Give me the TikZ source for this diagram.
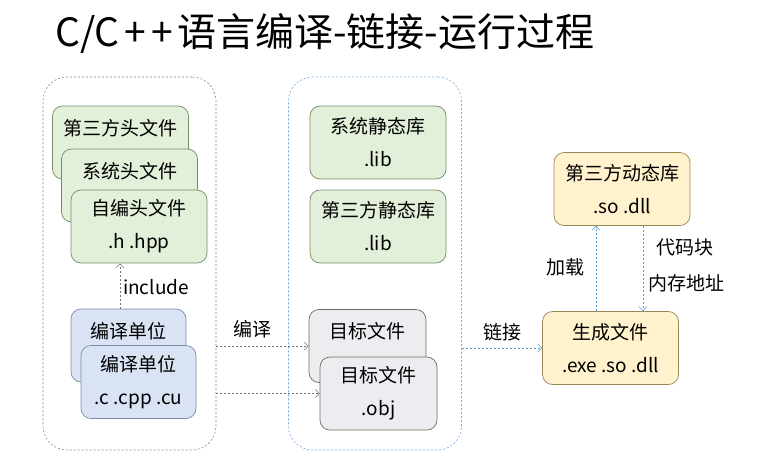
\documentclass[tikz,border=0pt]{standalone}
\usepackage{fontspec}
\usepackage{xcolor}
\usepackage{tikz}
\usetikzlibrary{shapes,arrows,arrows.meta,positioning}
\setmainfont{Noto Sans CJK SC}
\definecolor{headerfill}{RGB}{226, 239, 217}
\definecolor{headerdraw}{RGB}{118, 140, 102}
\definecolor{unitfill}{RGB}{218, 227, 243}
\definecolor{unitdraw}{RGB}{122, 141, 166}
\definecolor{objfill}{RGB}{237, 237, 241}
\definecolor{objdraw}{RGB}{98, 114, 88}
\definecolor{exefill}{RGB}{255, 242, 204}
\definecolor{exedraw}{RGB}{150, 136, 86}
\definecolor{graylink}{RGB}{115, 115, 115}
\definecolor{bluelink}{RGB}{91, 155, 213}

\begin{document}
\begin{tikzpicture}[x=1pt, y=-1pt, node distance=42pt, font=\fontsize{19}{33}\selectfont]
    % Define styles
    \tikzstyle{group} = [rectangle, dashed, dash pattern=on 2pt off 2pt, rounded corners=24pt, minimum width=173pt, minimum height=373pt, line width=0.6pt]
    \tikzstyle{filebox} = [rectangle, rounded corners=10pt, minimum width=136pt, minimum height=73pt, align=center, text centered, inner sep=0pt, line width=0.7pt]
    \tikzstyle{header} = [filebox, draw=headerdraw, fill=headerfill]
    \tikzstyle{unit} = [filebox, draw=unitdraw, fill=unitfill, minimum width=115pt]
    \tikzstyle{object} = [filebox, draw=objdraw, fill=objfill, minimum width=117pt]
    \tikzstyle{output} = [filebox, draw=exedraw, fill=exefill]
    \tikzstyle{topline} = [text height=10pt, text depth=25pt]
    \tikzstyle{grayarrow} = [-{Straight Barb[length=4pt, width=8pt]}, graylink, dashed, dash pattern=on 2pt off 2pt, line width=0.6pt]
    \tikzstyle{bluearrow} = [-{Straight Barb[length=4pt, width=8pt]}, bluelink, dashed, dash pattern=on 2pt off 2pt, line width=0.6pt]

    \useasboundingbox (0,0) rectangle (762,467);

    % Title
    \node [anchor=west, font=\fontsize{39}{44}\selectfont, inner sep=0pt] (title) at (55,33) {C/C\kern5pt+\kern5pt+\kern4pt语言编译-链接-运行过程};

    % Source side (left)
    \node [group, draw=graylink!85] (srcgroup) at (129.5,263.5) {};
    \node [header, topline] (thirdhdr) at (120.5,142.5) {第三方头文件};
    \node [header, topline, below of=thirdhdr, xshift=9pt, yshift=-1pt] (syshdr) {系统头文件};
    \node [header, below of=syshdr, xshift=9.5pt, yshift=1pt] (ownhdr) {自编头文件\\.h .hpp};
    \node [unit, topline] (unitback) at (128.5,345.5) {编译单位};
    \node [unit, below of=unitback, xshift=10pt, yshift=5.5pt] (unitfront) {编译单位\\.c .cpp .cu};

    % Object side (center)
    \node [group, draw=bluelink!85] (objgroup) at (375,263.5) {};
    \node [header] (syslib) at (378,142.5) {系统静态库\\.lib};
    \node [header, below of=syslib, yshift=-42pt] (thirdlib) {第三方静态库\\.lib};
    \node [object, topline] (objback) at (367.5,346) {目标文件};
    \node [object, below of=objback, xshift=11pt, yshift=-5.5pt] (objfront) {目标文件\\.obj};

    % Output side (right)
    \node [output] (exe) at (610.5,348) {生成文件\\.exe .so .dll};
    \node [output] (dynlib) at (622,189) {第三方动态库\\.so .dll};

    % Include and compile arrows
    \draw [grayarrow] ([xshift=-8.5pt]unitback.north) -- ([xshift=-8.5pt]unitback.north |- ownhdr.south);
    \draw [grayarrow] (srcgroup.east |- objback.west) -- (objback.west);
    \draw [grayarrow] (srcgroup.east |- objfront.west) -- (objfront.west);

    % Link, load and address arrows
    \draw [bluearrow] (objgroup.east |- exe.west) -- (exe.west);
    \draw [bluearrow] ([xshift=-14.5pt]exe.north) -- ([xshift=-14.5pt]exe.north |- dynlib.south);
    \draw [bluearrow] ([xshift=21pt]dynlib.south) -- ([xshift=21pt]dynlib.south |- exe.north);

    % Arrow labels
    \node (includelbl) at (156,287) {include};
    \node (compilelbl) at (252,329) {编译};
    \node (linklbl) at (502,332) {链接};
    \node (loadlbl) at (565,267) {加载};
    \node (codelbl) at (685,247) {代码块};
    \node (addrlbl) at (686,283) {内存地址};
\end{tikzpicture}
\end{document}
